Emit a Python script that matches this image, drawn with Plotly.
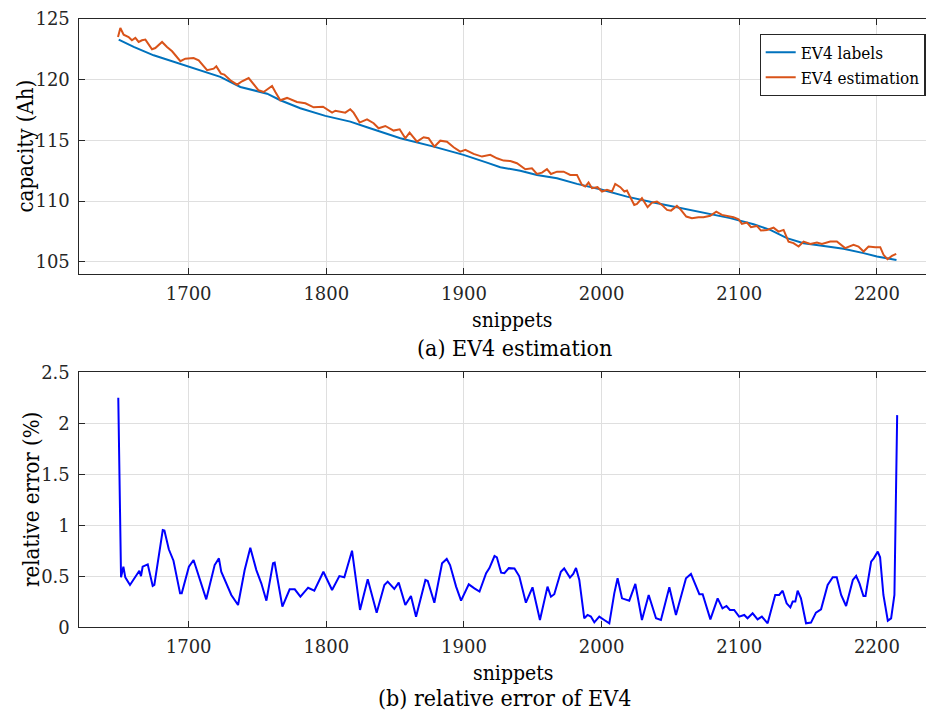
import plotly.graph_objects as go

# ---------------- data ----------------
lbl_x = [1649.2, 1660.1, 1674.6, 1700, 1723, 1737.6, 1757, 1766.6, 1781.1, 1799.3, 1817.4, 1829.6,
         1853.8, 1878, 1899.7, 1916.7, 1926.4, 1940.9, 1953, 1967.6, 1982.1, 1999, 2018.4, 2037.7,
         2054.7, 2074, 2093.4, 2110.4, 2122.5, 2134.6, 2146.7, 2158.8, 2175.7, 2190.3, 2200, 2214.2]
lbl_y = [123.30, 122.70, 122.01, 121.05, 120.23, 119.40, 118.85, 118.31, 117.65, 117.02, 116.55, 116.09,
         115.18, 114.49, 113.81, 113.17, 112.79, 112.51, 112.16, 111.89, 111.42, 110.98, 110.37, 109.88,
         109.50, 109.06, 108.60, 108.10, 107.63, 106.95, 106.54, 106.34, 106.07, 105.72, 105.44, 105.16]

est_x = [1648.7, 1650.4, 1652.8, 1656.4, 1658.8, 1661.3, 1663.7, 1666.1, 1668.6, 1673.4, 1675.8, 1680.7,
         1684.3, 1688.0, 1694.0, 1697.6, 1703.6, 1707.3, 1713.4, 1718.2, 1720.1, 1723.5, 1725.9, 1730.3,
         1735.2, 1738.8, 1743.6, 1747.2, 1750.8, 1754.5, 1758.1, 1760.6, 1763.0, 1766.6, 1771.5, 1778.7,
         1784.8, 1790.8, 1797.6, 1804.2, 1806.6, 1813.8, 1817.4, 1819.8, 1824.2, 1829.6, 1834.4, 1838.0,
         1842.9, 1848.9, 1853.3, 1857.4, 1860.5, 1865.9, 1870.7, 1874.3, 1878.5, 1882.8, 1887.7, 1892.5,
         1897.3, 1901.0, 1907.0, 1913.1, 1919.1, 1924.0, 1928.8, 1933.7, 1938.5, 1944.6, 1949.4, 1953.0,
         1956.7, 1960.3, 1963.2, 1967.6, 1972.4, 1977.2, 1982.1, 1985.7, 1988.1, 1990.5, 1993.0, 1997.0,
         2000.3, 2003.9, 2007.5, 2009.9, 2013.6, 2016.5, 2018.4, 2021.3, 2023.7, 2025.7, 2029.3, 2033.4,
         2036.6, 2040.2, 2043.8, 2047.5, 2050.4, 2054.7, 2057.6, 2061.5, 2065.6, 2070.4, 2074.0, 2078.9,
         2083.3, 2087.4, 2095.8, 2099.5, 2101.9, 2105.6, 2108.5, 2112.8, 2115.7, 2120.1, 2124.9, 2128.5,
         2132.2, 2135.8, 2139.4, 2143.1, 2146.7, 2151.6, 2156.4, 2160.0, 2166.1, 2170.9, 2176.9, 2183.0,
         2186.6, 2190.3, 2193.9, 2198.8, 2202.4, 2204.8, 2207.7, 2210.9, 2214.0]
est_y = [123.52, 124.26, 123.71, 123.52, 123.25, 123.44, 123.11, 123.25, 123.30, 122.51, 122.61, 123.11,
         122.70, 122.34, 121.52, 121.73, 121.79, 121.60, 120.78, 120.91, 121.10, 120.50, 120.42, 119.95,
         119.59, 119.87, 120.14, 119.68, 119.13, 118.99, 119.26, 119.49, 118.99, 118.31, 118.50, 118.17,
         118.06, 117.73, 117.78, 117.29, 117.45, 117.29, 117.57, 117.29, 116.47, 116.74, 116.42, 116.00,
         116.19, 115.81, 115.92, 115.18, 115.64, 114.90, 115.26, 115.18, 114.49, 114.98, 114.90, 114.44,
         114.08, 114.22, 113.89, 113.67, 113.81, 113.53, 113.34, 113.30, 113.12, 112.63, 112.71, 112.24,
         112.35, 112.63, 112.24, 112.43, 112.43, 112.16, 112.16, 111.34, 111.20, 111.53, 111.07, 111.15,
         110.79, 110.93, 110.79, 111.42, 111.15, 110.79, 110.87, 110.24, 109.69, 109.77, 110.24, 109.50,
         109.88, 109.96, 109.69, 109.28, 109.22, 109.61, 109.28, 108.73, 108.60, 108.68, 108.68, 108.79,
         109.14, 108.87, 108.68, 108.51, 108.13, 108.23, 107.86, 107.96, 107.58, 107.63, 107.82, 107.49,
         107.63, 106.67, 106.54, 106.26, 106.67, 106.48, 106.59, 106.48, 106.67, 106.67, 106.13, 106.40,
         106.26, 105.85, 106.26, 106.21, 106.21, 105.58, 105.22, 105.49, 105.66]

err_x = [1648.9, 1650.9, 1652.6, 1654.0, 1657.4, 1664.2, 1665.4, 1666.6, 1670.3, 1673.9, 1675.1, 1681.2,
         1682.4, 1685.6, 1689.0, 1693.8, 1695.0, 1700.2, 1703.6, 1707.5, 1712.8, 1718.9, 1720.1, 1722.0,
         1723.7, 1727.4, 1731.0, 1735.9, 1740.7, 1744.8, 1749.2, 1752.8, 1756.5, 1761.3, 1762.5, 1768.1,
         1773.4, 1777.1, 1781.2, 1786.8, 1791.3, 1797.9, 1804.2, 1809.5, 1813.1, 1818.7, 1824.5, 1830.1,
         1836.6, 1842.2, 1844.6, 1849.4, 1852.6, 1857.4, 1861.5, 1865.2, 1872.0, 1873.7, 1878.5, 1884.1,
         1887.5, 1889.9, 1894.3, 1897.9, 1903.5, 1907.6, 1911.3, 1916.1, 1918.5, 1922.2, 1923.9, 1927.0,
         1929.4, 1932.6, 1936.7, 1940.2, 1945.0, 1949.8, 1955.2, 1960.7, 1963.2, 1965.6, 1970.4, 1972.8,
         1977.0, 1979.4, 1981.4, 1983.8, 1987.4, 1989.8, 1992.2, 1994.7, 1998.3, 2001.9, 2005.6, 2009.2,
         2011.6, 2014.8, 2017.7, 2020.1, 2024.5, 2029.3, 2034.2, 2039.5, 2043.1, 2049.2, 2054.0, 2061.3,
         2064.9, 2068.6, 2071.0, 2073.4, 2079.0, 2084.3, 2087.8, 2090.7, 2093.2, 2096.3, 2099.9, 2103.6,
         2106.0, 2109.7, 2113.3, 2116.4, 2120.6, 2126.1, 2129.0, 2131.5, 2134.4, 2137.1, 2138.8, 2140.7,
         2142.4, 2144.8, 2148.5, 2152.1, 2155.7, 2159.4, 2164.2, 2167.9, 2170.8, 2174.0, 2177.6, 2182.5,
         2184.9, 2187.3, 2190.2, 2191.7, 2195.8, 2197.7, 2200.6, 2202.3, 2204.7, 2207.9, 2210.3, 2212.7,
         2214.7]
err_y = [2.25, 0.49, 0.594, 0.49, 0.415, 0.555, 0.502, 0.594, 0.617, 0.405, 0.415, 0.954,
         0.948, 0.765, 0.653, 0.333, 0.333, 0.594, 0.66, 0.50, 0.274, 0.61, 0.633, 0.676,
         0.545, 0.431, 0.317, 0.219, 0.561, 0.78, 0.561, 0.431, 0.261, 0.627, 0.633, 0.202,
         0.372, 0.372, 0.30, 0.388, 0.36, 0.545, 0.366, 0.502, 0.49, 0.751, 0.17, 0.47,
         0.143, 0.415, 0.448, 0.376, 0.438, 0.219, 0.307, 0.104, 0.464, 0.454, 0.241, 0.627,
         0.67, 0.61, 0.399, 0.261, 0.421, 0.382, 0.35, 0.53, 0.58, 0.699, 0.686, 0.536,
         0.53, 0.58, 0.577, 0.50, 0.241, 0.392, 0.072, 0.399, 0.30, 0.324, 0.545, 0.577,
         0.487, 0.523, 0.582, 0.464, 0.088, 0.121, 0.105, 0.049, 0.105, 0.072, 0.039, 0.333,
         0.48, 0.284, 0.268, 0.261, 0.425, 0.072, 0.317, 0.088, 0.072, 0.392, 0.121, 0.48,
         0.523, 0.399, 0.324, 0.324, 0.078, 0.284, 0.186, 0.209, 0.17, 0.17, 0.105, 0.121,
         0.088, 0.137, 0.078, 0.105, 0.039, 0.317, 0.317, 0.359, 0.235, 0.196, 0.252, 0.252,
         0.359, 0.284, 0.039, 0.046, 0.144, 0.176, 0.415, 0.49, 0.49, 0.317, 0.209, 0.464,
         0.503, 0.431, 0.307, 0.307, 0.643, 0.676, 0.742, 0.686, 0.317, 0.065, 0.088, 0.317,
         2.08]

x_ticks = [1700, 1800, 1900, 2000, 2100, 2200]
cap_ticks = [105, 110, 115, 120, 125]
err_ticks = [0, 0.5, 1, 1.5, 2, 2.5]
err_tick_text = ["0", "0.5", "1", "1.5", "2", "2.5"]

# ---------------- figure ----------------
# The page body adds an 8 px margin, so the figure is drawn 8 px smaller and
# reference pixel positions are shifted by OFF.
OFF = 8
W, H = 926, 704
TICK_FONT = "DejaVu Serif"
TEXT_FONT = "DejaVu Serif Condensed"
AX = "#262626"
GRID = "#dfdfdf"


def fx(px):
    return (px - OFF) / W


def fy(py):
    return 1 - (py - OFF) / H


fig = go.Figure()
fig.add_trace(go.Scatter(x=lbl_x, y=lbl_y, mode="lines", name="EV4 labels",
                         line=dict(color="#0072BD", width=2), xaxis="x", yaxis="y"))
fig.add_trace(go.Scatter(x=est_x, y=est_y, mode="lines", name="EV4 estimation",
                         line=dict(color="#D95319", width=2), xaxis="x", yaxis="y"))
fig.add_trace(go.Scatter(x=err_x, y=err_y, mode="lines", name="relative error",
                         line=dict(color="#0000FF", width=2), xaxis="x2", yaxis="y2",
                         showlegend=False))

xdom = [fx(78.5), fx(932)]
top_dom = [fy(274), fy(19)]
bot_dom = [fy(627.3), fy(372.3)]

axis_common = dict(showline=True, linecolor=AX, linewidth=1.2, mirror="ticks",
                   ticks="inside", ticklen=6, tickcolor=AX, tickwidth=1,
                   showgrid=True, gridcolor=GRID, gridwidth=1, zeroline=False,
                   ticklabeloverflow="allow",
                   tickfont=dict(family=TICK_FONT, size=18, color=AX), automargin=False)

fig.update_layout(
    width=W, height=H,
    margin=dict(l=0, r=0, t=0, b=0),
    paper_bgcolor="white", plot_bgcolor="white",
    font=dict(family=TEXT_FONT, color="black"),
    showlegend=True,
    legend=dict(x=fx(925.5), y=fy(33.5), xanchor="right", yanchor="top",
                bgcolor="white", bordercolor=AX, borderwidth=1.2,
                font=dict(family=TEXT_FONT, size=17, color="black"),
                tracegroupgap=0),
    xaxis=dict(domain=xdom, range=[1620, 2240], tickvals=x_ticks, anchor="y",
               ticklabelstandoff=3, **axis_common),
    yaxis=dict(domain=top_dom, range=[104, 125], tickvals=cap_ticks, anchor="x",
               ticklabelstandoff=4, **axis_common),
    xaxis2=dict(domain=xdom, range=[1620, 2240], tickvals=x_ticks, anchor="y2",
                ticklabelstandoff=3, **axis_common),
    yaxis2=dict(domain=bot_dom, range=[0, 2.5], tickvals=err_ticks, ticktext=err_tick_text,
                anchor="x2", ticklabelstandoff=4, **axis_common),
)


def ann(text, px, py, size, angle=0):
    fig.add_annotation(text=text, x=fx(px), y=fy(py), xref="paper", yref="paper",
                       showarrow=False, xanchor="center", yanchor="middle", textangle=angle,
                       font=dict(family=TEXT_FONT, size=size, color="black"))


ann("snippets", 512, 320, 21)
ann("(a) EV4 estimation", 514, 348, 23)
ann("capacity (Ah)", 25, 146.5, 22, -90)
ann("snippets", 513, 673, 21)
ann("(b) relative error of EV4", 504, 698, 23)
ann("relative error (%)", 31, 500, 22, -90)

fig.write_html("out.html")
